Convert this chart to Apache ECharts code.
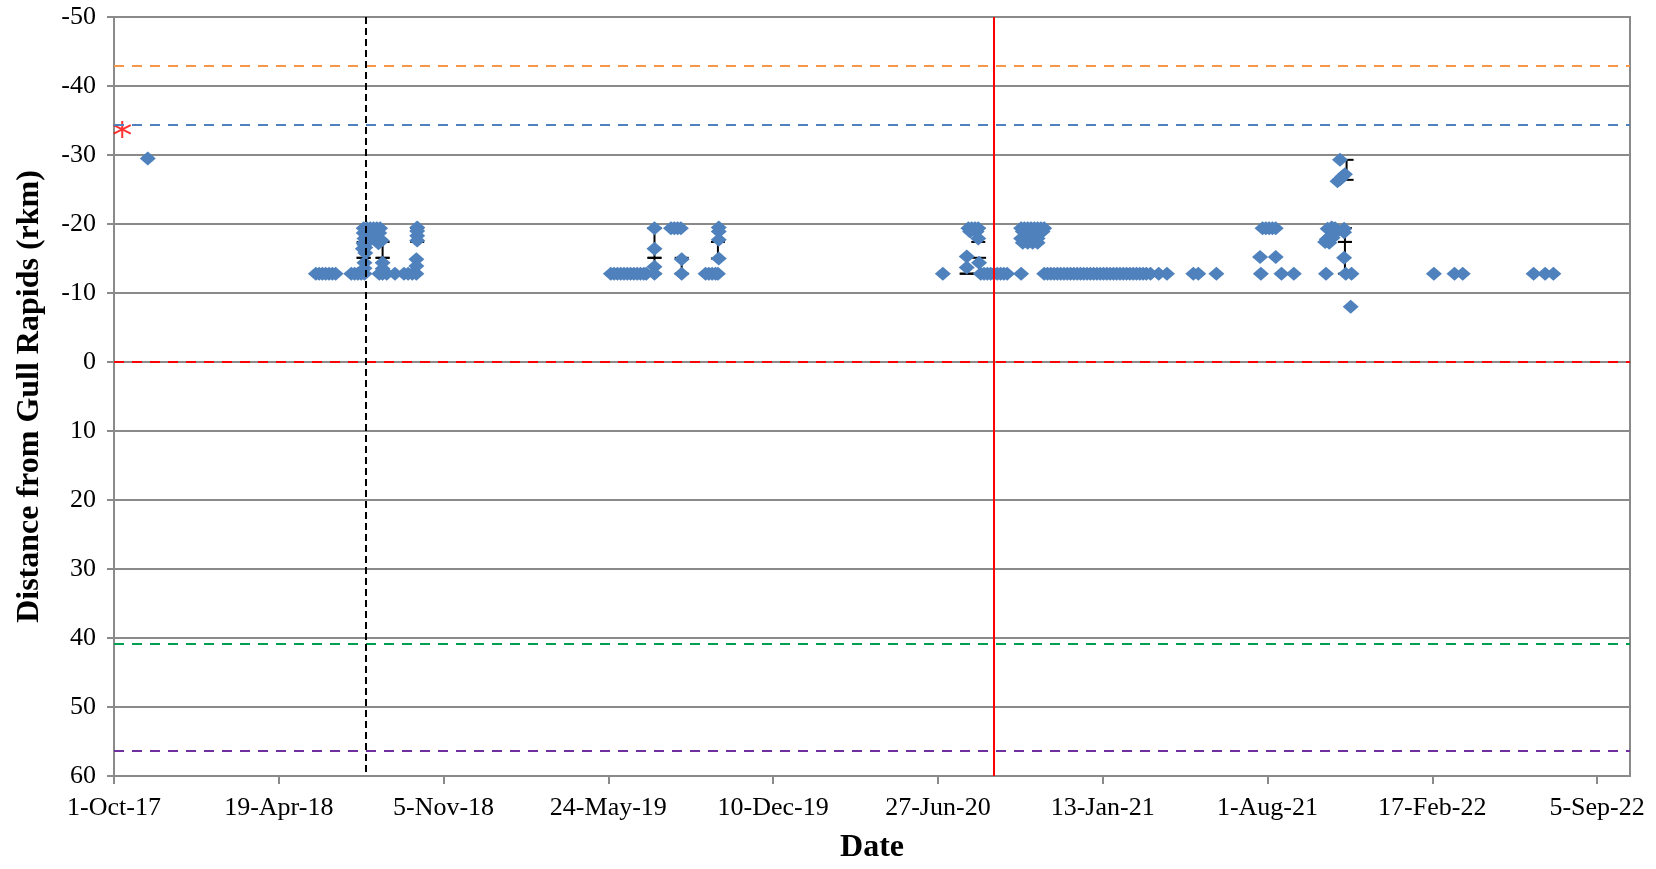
<!DOCTYPE html>
<html>
<head>
<meta charset="utf-8">
<script src="https://cdn.jsdelivr.net/npm/echarts@6/dist/echarts.min.js"></script>
<style>
  html, body { margin: 0; padding: 0; background: #fff; }
  #chart { width: 1656px; height: 869px; }
</style>
</head>
<body>
<div id="chart"></div>
<script>
// x axis ticks every 200 days from 1-Oct-17
const tickDates = ['2017-10-01', '2018-04-19', '2018-11-05', '2019-05-24', '2019-12-10',
  '2020-06-27', '2021-01-13', '2021-08-01', '2022-02-17', '2022-09-05']
const tickLabels = ['1-Oct-17', '19-Apr-18', '5-Nov-18', '24-May-19', '10-Dec-19',
  '27-Jun-20', '13-Jan-21', '1-Aug-21', '17-Feb-22', '5-Sep-22']
const dateMin = '2017-10-01'
const dateMax = '2022-10-15'

// horizontal reference lines (rkm) and vertical event dates
const hLineValues = [-43, -34.4, 0, 40.9, 56.4]
const vLineDates = ['2018-08-03', '2020-09-03']

// tagging location (red asterisk)
const tagging = [['2017-10-11', -33.7]]

// detections, [date, rkm]
const fixes2017 = [['2017-11-11', -29.5]]

const fixes2018 = [
  ['2018-06-03', -12.8], ['2018-06-07', -12.8], ['2018-06-11', -12.8], ['2018-06-15', -12.8],
  ['2018-06-19', -12.8], ['2018-06-23', -12.8], ['2018-06-27', -12.8],
  ['2018-07-16', -12.8], ['2018-07-20', -12.8], ['2018-07-24', -12.8], ['2018-07-28', -12.8],
  ['2018-08-01', -12.8], ['2018-08-01', -13.6], ['2018-08-01', -14.4], ['2018-08-02', -15.8],
  ['2018-08-02', -16.6], ['2018-07-30', -16.4], ['2018-08-01', -17.0],
  ['2018-07-31', -19.4], ['2018-08-04', -19.4], ['2018-08-08', -19.4], ['2018-08-12', -19.4],
  ['2018-08-16', -19.4], ['2018-08-20', -19.4],
  ['2018-07-31', -18.7], ['2018-08-05', -18.7], ['2018-08-10', -18.7], ['2018-08-15', -18.7],
  ['2018-08-19', -18.7],
  ['2018-08-01', -17.9], ['2018-08-06', -17.9], ['2018-08-12', -17.9], ['2018-08-17', -17.9],
  ['2018-07-31', -17.2], ['2018-08-18', -17.2], ['2018-08-22', -17.6],
  ['2018-08-23', -14.4], ['2018-08-23', -13.5], ['2018-08-23', -12.8], ['2018-08-19', -12.8],
  ['2018-08-28', -12.8], ['2018-09-07', -12.8], ['2018-09-18', -12.8], ['2018-09-23', -12.8],
  ['2018-09-28', -12.8], ['2018-10-03', -12.8],
  ['2018-10-04', -19.5], ['2018-10-04', -19.0], ['2018-10-04', -18.3], ['2018-10-04', -17.6],
  ['2018-10-03', -14.9], ['2018-10-03', -13.9]
]

const fixes2019 = [
  ['2019-05-27', -12.8], ['2019-05-31', -12.8], ['2019-06-04', -12.8], ['2019-06-08', -12.8],
  ['2019-06-12', -12.8], ['2019-06-16', -12.8], ['2019-06-20', -12.8], ['2019-06-24', -12.8],
  ['2019-06-28', -12.8], ['2019-07-02', -12.8], ['2019-07-06', -12.8], ['2019-07-09', -12.8],
  ['2019-07-19', -19.4], ['2019-07-19', -16.4], ['2019-07-19', -13.8], ['2019-07-19', -12.8],
  ['2019-08-08', -19.4], ['2019-08-12', -19.4], ['2019-08-16', -19.4], ['2019-08-20', -19.4],
  ['2019-08-21', -14.9], ['2019-08-21', -12.8],
  ['2019-09-19', -12.8], ['2019-09-23', -12.8], ['2019-09-27', -12.8], ['2019-10-01', -12.8],
  ['2019-10-04', -12.8],
  ['2019-10-05', -19.5], ['2019-10-05', -18.9], ['2019-10-05', -17.7], ['2019-10-05', -15.0]
]

const fixes2020 = [
  ['2020-07-03', -12.8],
  ['2020-08-03', -19.4], ['2020-08-07', -19.4], ['2020-08-11', -19.4], ['2020-08-15', -19.4],
  ['2020-08-05', -18.9], ['2020-08-13', -18.9], ['2020-08-15', -17.9],
  ['2020-08-01', -15.3], ['2020-08-01', -13.7], ['2020-08-16', -14.4],
  ['2020-08-18', -12.8], ['2020-08-22', -12.8], ['2020-08-26', -12.8], ['2020-08-30', -12.8],
  ['2020-09-03', -12.8], ['2020-09-07', -12.8], ['2020-09-11', -12.8], ['2020-09-15', -12.8],
  ['2020-09-19', -12.8], ['2020-10-06', -12.8],
  ['2020-10-06', -19.4], ['2020-10-10', -19.4], ['2020-10-14', -19.4], ['2020-10-18', -19.4],
  ['2020-10-22', -19.4], ['2020-10-26', -19.4], ['2020-10-30', -19.4], ['2020-11-03', -19.4],
  ['2020-10-08', -18.9], ['2020-10-16', -18.9], ['2020-10-24', -18.9], ['2020-11-01', -18.9],
  ['2020-10-06', -17.9], ['2020-10-11', -17.9], ['2020-10-16', -17.9], ['2020-10-21', -17.9],
  ['2020-10-26', -17.9],
  ['2020-10-08', -17.3], ['2020-10-14', -17.3], ['2020-10-20', -17.3], ['2020-10-26', -17.3],
  ['2020-11-03', -12.8], ['2020-11-07', -12.8], ['2020-11-11', -12.8], ['2020-11-15', -12.8],
  ['2020-11-19', -12.8], ['2020-11-23', -12.8], ['2020-11-27', -12.8], ['2020-12-01', -12.8],
  ['2020-12-05', -12.8], ['2020-12-09', -12.8], ['2020-12-13', -12.8], ['2020-12-17', -12.8],
  ['2020-12-21', -12.8], ['2020-12-25', -12.8], ['2020-12-29', -12.8]
]

const fixes2021 = [
  ['2021-01-02', -12.8], ['2021-01-06', -12.8], ['2021-01-10', -12.8], ['2021-01-14', -12.8],
  ['2021-01-18', -12.8], ['2021-01-22', -12.8], ['2021-01-26', -12.8], ['2021-01-30', -12.8],
  ['2021-02-03', -12.8], ['2021-02-07', -12.8], ['2021-02-11', -12.8], ['2021-02-15', -12.8],
  ['2021-02-19', -12.8], ['2021-02-23', -12.8], ['2021-02-27', -12.8], ['2021-03-03', -12.8],
  ['2021-03-07', -12.8], ['2021-03-12', -12.8], ['2021-03-22', -12.8], ['2021-04-01', -12.8],
  ['2021-05-03', -12.8], ['2021-05-09', -12.8], ['2021-05-31', -12.8],
  ['2021-07-26', -19.4], ['2021-07-30', -19.4], ['2021-08-03', -19.4], ['2021-08-07', -19.4],
  ['2021-08-11', -19.4],
  ['2021-07-23', -15.2], ['2021-08-11', -15.2],
  ['2021-07-24', -12.8], ['2021-08-18', -12.8], ['2021-09-02', -12.8], ['2021-10-11', -12.8],
  ['2021-10-13', -19.3], ['2021-10-18', -19.5], ['2021-10-22', -19.4], ['2021-10-25', -19.0],
  ['2021-10-20', -18.6], ['2021-10-16', -18.2], ['2021-10-12', -17.8], ['2021-10-10', -17.4],
  ['2021-10-15', -17.3], ['2021-10-19', -18.0],
  ['2021-11-02', -19.3], ['2021-11-02', -18.8], ['2021-11-02', -15.1],
  ['2021-11-04', -12.8], ['2021-11-11', -12.8], ['2021-11-10', -8.0],
  ['2021-10-28', -29.3], ['2021-10-25', -26.2], ['2021-10-28', -26.5], ['2021-10-31', -26.9],
  ['2021-11-03', -27.2]
]

const fixes2022 = [
  ['2022-02-19', -12.8], ['2022-03-16', -12.8], ['2022-03-26', -12.8],
  ['2022-06-20', -12.8], ['2022-07-04', -12.8], ['2022-07-14', -12.8]
]

// black range bars, [date, from, to]
const errorBars = [
  ['2018-07-31', -15.1, -17.4], ['2018-07-31', -12.8, -15.1],
  ['2018-08-23', -15.1, -17.4], ['2018-08-23', -12.8, -15.1],
  ['2018-10-04', -17.4, -19.4],
  ['2019-07-19', -15.1, -19.4], ['2019-07-19', -12.8, -15.1],
  ['2019-08-21', -12.8, -15.1],
  ['2019-10-04', -15.0, -17.4],
  ['2020-08-01', -12.8, -12.8],
  ['2020-08-15', -17.4, -19.4],
  ['2020-08-16', -12.8, -15.1],
  ['2021-11-03', -12.8, -17.4], ['2021-11-03', -17.4, -19.4],
  ['2021-11-05', -26.4, -29.3]
]

const t = s => Date.parse(s)
const gridColor = '#8a8a8a'
const font = 'Liberation Serif'
const hLineStyles = [
  { color: '#f79646', type: [10, 8] },
  { color: '#4f81bd', type: [10, 8] },
  { color: '#ff0000', type: [10, 8] },
  { color: '#00a050', type: [10, 8] },
  { color: '#7030a0', type: [10, 8] }
]
const vLineStyles = [
  { color: '#000000', type: [7, 4] },
  { color: '#ff0000', type: 'solid' }
]

const allFixes = [].concat(fixes2017, fixes2018, fixes2019, fixes2020, fixes2021, fixes2022)
const tickValues = tickDates.map(t)

const markData = []
hLineValues.forEach((v, i) => {
  markData.push({ yAxis: v, lineStyle: { width: 2, ...hLineStyles[i] } })
})
vLineDates.forEach((d, i) => {
  markData.push({ xAxis: t(d), lineStyle: { width: 2, ...vLineStyles[i] } })
})

const myChart = echarts.init(document.getElementById('chart'))
myChart.setOption({
  animation: false,
  grid: {
    left: 114, right: 26, top: 17, bottom: 77,
    show: true, borderColor: gridColor, borderWidth: 2, backgroundColor: 'transparent'
  },
  xAxis: {
    type: 'value',
    min: t(dateMin),
    max: t(dateMax),
    name: 'Date',
    nameLocation: 'middle',
    nameGap: 56,
    nameTextStyle: { fontFamily: font, fontWeight: 'bold', fontSize: 32, color: '#000' },
    axisLine: { onZero: false, lineStyle: { color: gridColor, width: 2 } },
    axisTick: { show: true, length: 8, lineStyle: { color: gridColor, width: 2 }, customValues: tickValues },
    axisLabel: {
      customValues: tickValues,
      margin: 19,
      fontFamily: font, fontSize: 26, color: '#000',
      formatter: v => {
        const i = tickValues.indexOf(v)
        return i >= 0 ? tickLabels[i] : ''
      }
    },
    splitLine: { show: false }
  },
  yAxis: {
    type: 'value',
    inverse: true,
    min: -50,
    max: 60,
    interval: 10,
    name: 'Distance from Gull Rapids (rkm)',
    nameLocation: 'middle',
    nameGap: 68,
    nameTextStyle: { fontFamily: font, fontWeight: 'bold', fontSize: 32, color: '#000' },
    axisLine: { show: true, onZero: false, lineStyle: { color: gridColor, width: 2 } },
    axisTick: { show: true, length: 7, lineStyle: { color: gridColor, width: 2 } },
    axisLabel: { margin: 18, fontFamily: font, fontSize: 26, color: '#000' },
    splitLine: { show: true, lineStyle: { color: gridColor, width: 2 } }
  },
  series: [
    {
      name: 'refLines',
      type: 'line',
      data: [],
      z: 1,
      markLine: {
        silent: true,
        symbol: 'none',
        label: { show: false },
        animation: false,
        data: markData
      }
    },
    {
      name: 'ranges',
      type: 'custom',
      z: 2,
      data: errorBars.map(b => [t(b[0]), b[1], b[2]]),
      encode: { x: 0, y: [1, 2] },
      renderItem: (params, api) => {
        const x = api.value(0)
        const p1 = api.coord([x, api.value(1)])
        const p2 = api.coord([x, api.value(2)])
        const w = 7
        const st = { stroke: '#000', lineWidth: 2 }
        return {
          type: 'group',
          children: [
            { type: 'line', shape: { x1: p1[0], y1: p1[1], x2: p2[0], y2: p2[1] }, style: st },
            { type: 'line', shape: { x1: p1[0] - w, y1: p1[1], x2: p1[0] + w, y2: p1[1] }, style: st },
            { type: 'line', shape: { x1: p2[0] - w, y1: p2[1], x2: p2[0] + w, y2: p2[1] }, style: st }
          ]
        }
      }
    },
    {
      name: 'fixes',
      type: 'scatter',
      z: 3,
      symbol: 'diamond',
      symbolSize: [16, 14],
      itemStyle: { color: '#4f81bd', opacity: 1 },
      data: allFixes.map(p => [t(p[0]), p[1]])
    },
    {
      name: 'tagging',
      type: 'scatter',
      z: 4,
      symbol: 'path://M0,-10L0,10M-8.66,-5L8.66,5M-8.66,5L8.66,-5',
      symbolSize: 17,
      itemStyle: { color: 'none', borderColor: '#ff0000', borderWidth: 2 },
      data: tagging.map(p => [t(p[0]), p[1]])
    }
  ]
})
</script>
</body>
</html>
